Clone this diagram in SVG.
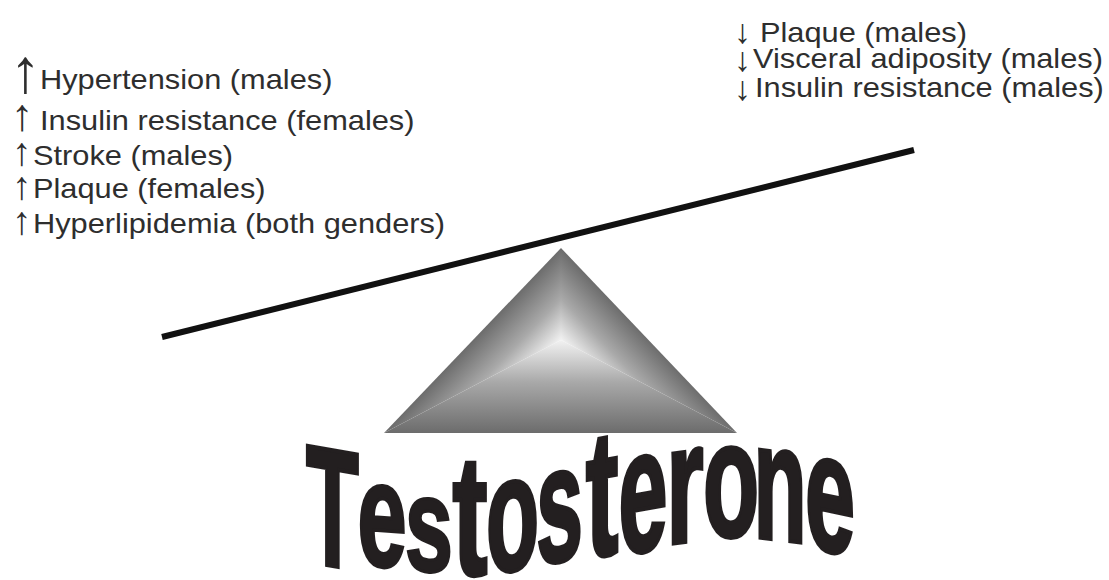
<svg xmlns="http://www.w3.org/2000/svg" width="1109" height="580" viewBox="0 0 1109 580">
<style>
.lbl{font-family:"Liberation Sans",Arial,sans-serif;font-size:27px;fill:#2e2e2e}
.arr{font-family:"Liberation Sans",Arial,sans-serif;fill:#2e2e2e}
.big{font-family:"Liberation Sans",Arial,sans-serif;font-weight:bold;font-size:100px;fill:#231f20;stroke:#231f20;stroke-width:2.5;text-anchor:middle}
</style>
<defs>
<linearGradient id="gL" gradientUnits="userSpaceOnUse" x1="515" y1="296" x2="561" y2="340">
<stop offset="0" stop-color="#6c6c6c"/><stop offset="0.55" stop-color="#a9a9a9"/><stop offset="1" stop-color="#f2f2f2"/>
</linearGradient>
<linearGradient id="gR" gradientUnits="userSpaceOnUse" x1="607" y1="296" x2="561" y2="340">
<stop offset="0" stop-color="#6c6c6c"/><stop offset="0.55" stop-color="#a9a9a9"/><stop offset="1" stop-color="#f2f2f2"/>
</linearGradient>
<linearGradient id="gB" gradientUnits="userSpaceOnUse" x1="561" y1="433" x2="561" y2="340">
<stop offset="0" stop-color="#6c6c6c"/><stop offset="0.55" stop-color="#a9a9a9"/><stop offset="1" stop-color="#f2f2f2"/>
</linearGradient>
</defs>
<rect width="1109" height="580" fill="#ffffff"/>

<g id="connectors">
<line id="beam" x1="162" y1="337" x2="914" y2="150" stroke="#111" stroke-width="6" stroke-linecap="butt"/>
</g>

<g id="fulcrum">
<polygon points="561,248 384,433 561,340" fill="url(#gL)"/>
<polygon points="561,248 737,433 561,340" fill="url(#gR)"/>
<polygon points="384,433 737,433 561,340" fill="url(#gB)"/>
</g>

<g id="left-effects">
<text class="arr" transform="translate(10,92)" font-size="62">↑</text>
<text class="lbl" transform="translate(40,89) scale(1.14,1)">Hypertension (males)</text>
<text class="arr" transform="translate(11,130)" font-size="45">↑</text>
<text class="lbl" transform="translate(40,130) scale(1.14,1)">Insulin resistance (females)</text>
<text class="arr" transform="translate(12,165)" font-size="39">↑</text>
<text class="lbl" transform="translate(33,165) scale(1.14,1)">Stroke (males)</text>
<text class="arr" transform="translate(12,199)" font-size="39">↑</text>
<text class="lbl" transform="translate(33,198) scale(1.14,1)">Plaque (females)</text>
<text class="arr" transform="translate(12,234)" font-size="39">↑</text>
<text class="lbl" transform="translate(33,233) scale(1.14,1)">Hyperlipidemia (both genders)</text>
</g>

<g id="right-effects">
<text class="arr" transform="translate(734,43)" font-size="34">↓</text>
<text class="lbl" transform="translate(760,42) scale(1.14,1)">Plaque (males)</text>
<text class="arr" transform="translate(734,71)" font-size="34">↓</text>
<text class="lbl" transform="translate(753,68) scale(1.14,1)">Visceral adiposity (males)</text>
<text class="arr" transform="translate(734,100)" font-size="34">↓</text>
<text class="lbl" transform="translate(755,97) scale(1.14,1)">Insulin resistance (males)</text>
</g>

<g id="title">
<text class="big" transform="translate(332.5,566) skewY(10) scale(0.864,1.68)">T</text>
<text class="big" transform="translate(382,566) skewY(4) scale(0.884,1.49)">e</text>
<text class="big" transform="translate(429,571) skewY(4) scale(0.86,1.34)">s</text>
<text class="big" transform="translate(470,575) scale(1.05,1.71)">t</text>
<text class="big" transform="translate(512.5,570) skewY(-8) scale(0.87,1.65)">o</text>
<text class="big" transform="translate(559.5,561) skewY(-10) scale(0.84,1.65)">s</text>
<text class="big" transform="translate(602,555) skewY(-10) scale(0.98,1.79)">t</text>
<text class="big" transform="translate(643,551) skewY(-10) scale(0.88,1.76)">e</text>
<text class="big" transform="translate(685,542) skewY(-8) scale(0.96,1.70)">r</text>
<text class="big" transform="translate(731,536) scale(0.92,1.65)">o</text>
<text class="big" transform="translate(780,540) skewY(7) scale(0.87,1.66)">n</text>
<text class="big" transform="translate(830,551) skewY(12) scale(0.90,1.69)">e</text>
</g>
</svg>
